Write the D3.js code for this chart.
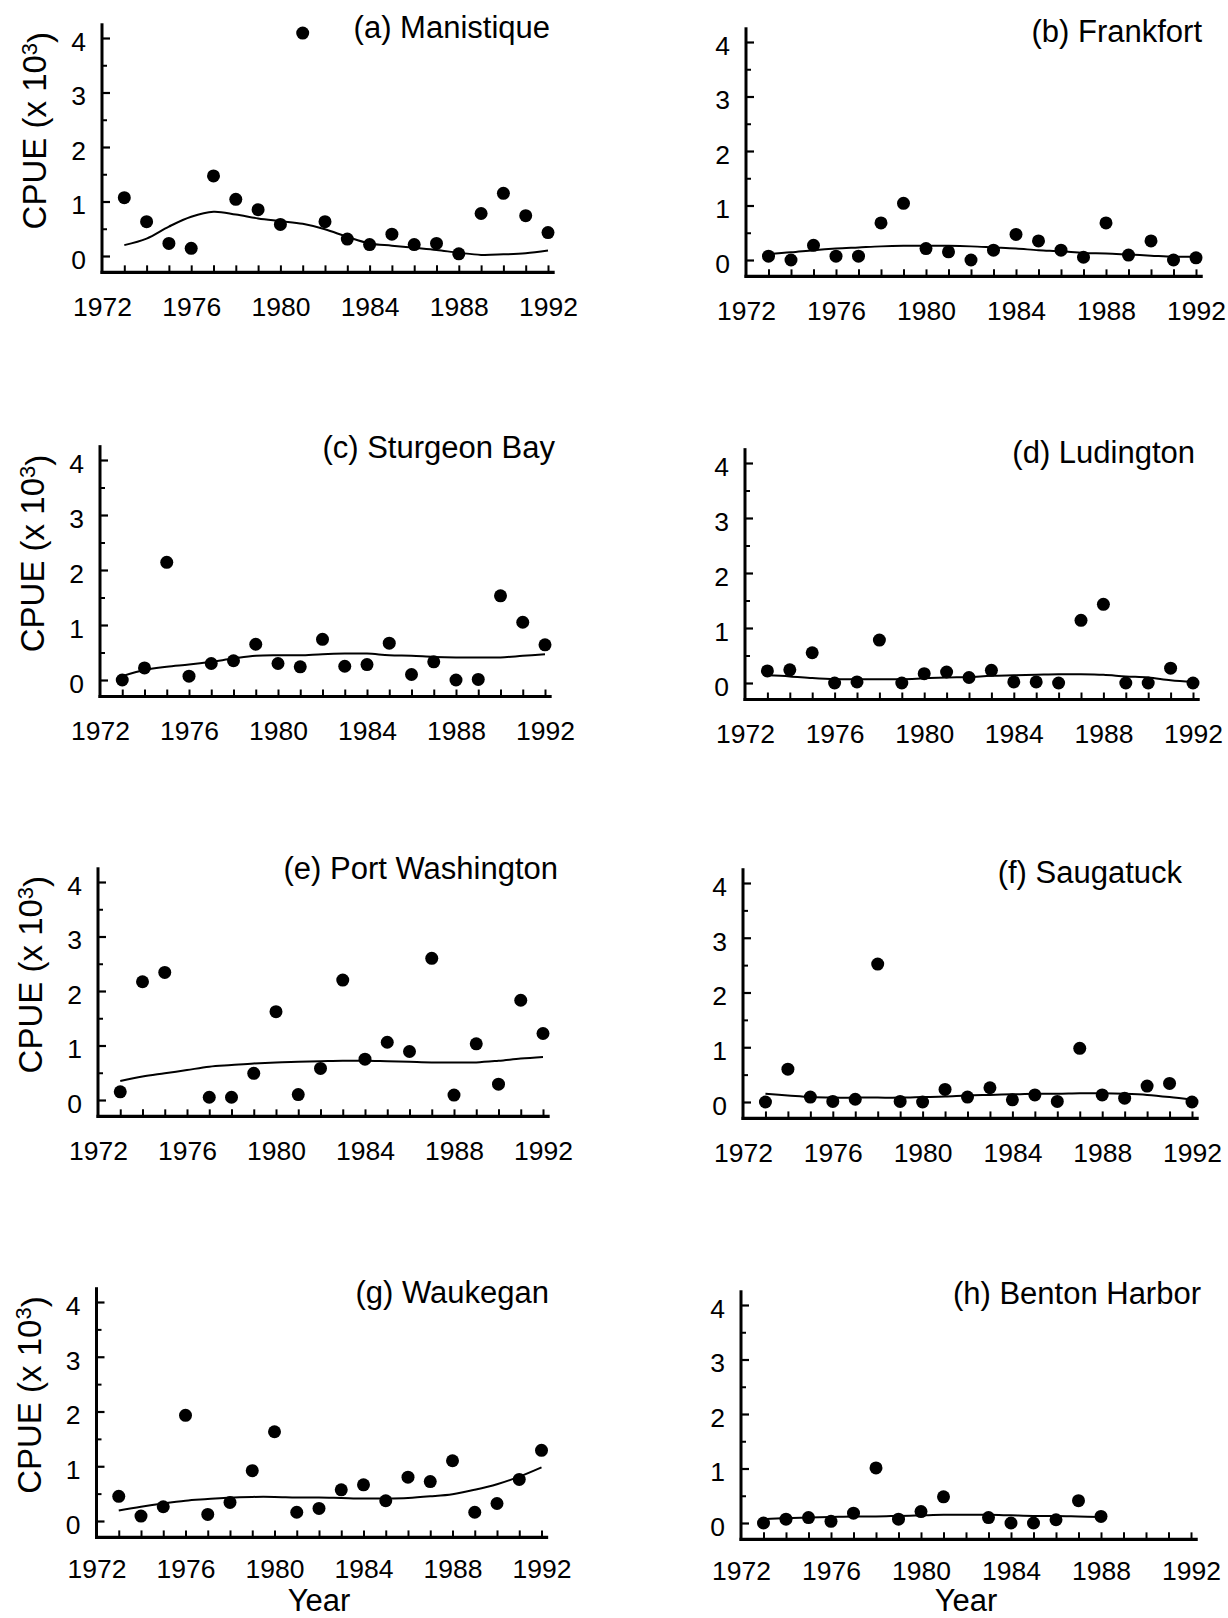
<!DOCTYPE html>
<html>
<head>
<meta charset="utf-8">
<script src="https://cdn.jsdelivr.net/npm/d3@7"></script>
<style>
    html, body { margin: 0; padding: 0; background: #fff; }
    svg { display: block; font-family: "Liberation Sans", Arial, sans-serif; }
</style>
</head>
<body>
<div id="chart"></div>
<script>
// ---- data (CPUE x 10^3) ----
const years = [1973, 1974, 1975, 1976, 1977, 1978, 1979, 1980, 1981, 1982,
               1983, 1984, 1985, 1986, 1987, 1988, 1989, 1990, 1991, 1992];
const yearTicks = [1972, 1976, 1980, 1984, 1988, 1992];
const cpueTicks = [0, 1, 2, 3, 4];
const cpueMinorTicks = [0.5, 1.5, 2.5, 3.5];

const siteNames = ['(a) Manistique', '(b) Frankfort', '(c) Sturgeon Bay', '(d) Ludington',
                   '(e) Port Washington', '(f) Saugatuck', '(g) Waukegan', '(h) Benton Harbor'];

const manistique    = [1.07, 0.63, 0.23, 0.14, 1.47, 1.04, 0.85, 0.58, 4.09, 0.63, 0.31, 0.21, 0.40, 0.21, 0.23, 0.04, 0.78, 1.15, 0.74, 0.43];
const manistiqueFit = [0.20, 0.32, 0.54, 0.72, 0.81, 0.76, 0.69, 0.64, 0.59, 0.49, 0.35, 0.23, 0.19, 0.15, 0.11, 0.06, 0.02, 0.03, 0.05, 0.10];

const frankfort     = [0.07, 0.00, 0.27, 0.07, 0.07, 0.68, 1.04, 0.21, 0.15, 0.00, 0.18, 0.47, 0.35, 0.18, 0.05, 0.68, 0.09, 0.35, 0.00, 0.04];
const frankfortFit  = [0.11, 0.14, 0.18, 0.21, 0.23, 0.25, 0.26, 0.26, 0.26, 0.25, 0.23, 0.21, 0.18, 0.16, 0.13, 0.12, 0.10, 0.08, 0.06, 0.06];

const sturgeonBay    = [0.00, 0.22, 2.14, 0.07, 0.30, 0.35, 0.65, 0.30, 0.24, 0.74, 0.25, 0.28, 0.67, 0.10, 0.33, 0.00, 0.01, 1.53, 1.05, 0.64];
const sturgeonBayFit = [0.07, 0.18, 0.24, 0.28, 0.33, 0.39, 0.44, 0.45, 0.45, 0.47, 0.48, 0.48, 0.45, 0.44, 0.42, 0.41, 0.41, 0.41, 0.44, 0.47];

const ludington     = [0.22, 0.24, 0.55, 0.00, 0.02, 0.78, 0.00, 0.17, 0.20, 0.10, 0.23, 0.02, 0.02, 0.00, 1.14, 1.43, 0.00, 0.00, 0.27, 0.00];
const ludingtonFit  = [0.14, 0.12, 0.09, 0.07, 0.07, 0.07, 0.07, 0.085, 0.10, 0.11, 0.13, 0.14, 0.15, 0.16, 0.16, 0.15, 0.12, 0.10, 0.05, 0.02];

const portWashington    = [0.15, 2.17, 2.34, null, 0.05, 0.05, 0.49, 1.62, 0.10, 0.58, 2.20, 0.75, 1.06, 0.89, 2.60, 0.09, 1.03, 0.29, 1.83, 1.22];
const portWashingtonFit = [0.35, 0.43, 0.49, 0.55, 0.61, 0.64, 0.67, 0.69, 0.70, 0.71, 0.72, 0.72, 0.71, 0.70, 0.69, 0.69, 0.69, 0.72, 0.76, 0.79];

const saugatuck     = [0.00, 0.60, 0.09, 0.01, 0.05, 2.52, 0.01, 0.00, 0.23, 0.09, 0.26, 0.04, 0.13, 0.01, 0.98, 0.13, 0.07, 0.29, 0.34, 0.00];
const saugatuckFit  = [0.15, 0.12, 0.09, 0.08, 0.08, 0.08, 0.08, 0.09, 0.10, 0.12, 0.13, 0.14, 0.15, 0.15, 0.16, 0.16, 0.15, 0.13, 0.09, 0.04];

const waukegan      = [0.45, 0.09, 0.26, 1.93, 0.12, 0.34, 0.92, 1.63, 0.16, 0.23, 0.57, 0.66, 0.37, 0.80, 0.72, 1.10, 0.16, 0.32, 0.76, 1.29];
const waukeganFit   = [0.19, 0.26, 0.32, 0.37, 0.40, 0.43, 0.44, 0.44, 0.43, 0.43, 0.42, 0.41, 0.41, 0.42, 0.45, 0.49, 0.57, 0.67, 0.81, 0.98];

const bentonHarbor    = [0.00, 0.07, 0.10, 0.03, 0.18, 1.01, 0.07, 0.21, 0.48, null, 0.10, 0.00, 0.00, 0.06, 0.41, 0.12, null, null, null, null];
const bentonHarborFit = [0.07, 0.09, 0.10, 0.11, 0.12, 0.12, 0.13, 0.14, 0.15, 0.15, 0.15, 0.14, 0.13, 0.13, 0.12, 0.11, null, null, null, null];

const sites = [
    { name: siteNames[0], cpue: manistique,     fit: manistiqueFit },
    { name: siteNames[1], cpue: frankfort,      fit: frankfortFit },
    { name: siteNames[2], cpue: sturgeonBay,    fit: sturgeonBayFit },
    { name: siteNames[3], cpue: ludington,      fit: ludingtonFit },
    { name: siteNames[4], cpue: portWashington, fit: portWashingtonFit },
    { name: siteNames[5], cpue: saugatuck,      fit: saugatuckFit },
    { name: siteNames[6], cpue: waukegan,       fit: waukeganFit },
    { name: siteNames[7], cpue: bentonHarbor,   fit: bentonHarborFit }
];

// ---- layout: pixel frame of each panel (x of 1972 / 1992, y of 0 / 4), title anchor ----
const layout = [
    { x0: 102,   x1: 548,    y0: 256,  y4: 38,   titleX: 550,  titleDy: 0 },
    { x0: 746,   x1: 1196,   y0: 260,  y4: 42,   titleX: 1202, titleDy: 0 },
    { x0: 100,   x1: 545,    y0: 680,  y4: 460,  titleX: 555,  titleDy: -2 },
    { x0: 745,   x1: 1193,   y0: 683,  y4: 463,  titleX: 1195, titleDy: 0 },
    { x0: 98,    x1: 543,    y0: 1100, y4: 882,  titleX: 558,  titleDy: -3 },
    { x0: 743,   x1: 1192,   y0: 1102, y4: 883,  titleX: 1182, titleDy: 0 },
    { x0: 96.5,  x1: 541.5,  y0: 1521, y4: 1302, titleX: 549,  titleDy: 1 },
    { x0: 741,   x1: 1191,   y0: 1523, y4: 1305, titleX: 1201, titleDy: -1 }
];

const WIDTH = 1228, HEIGHT = 1618;
const TICK_FONT = 26.5;
const FONT = '"Liberation Sans", Arial, sans-serif';

const svg = d3.select('#chart').append('svg')
    .attr('width', WIDTH)
    .attr('height', HEIGHT);

function drawPanel(site, box, index) {
    const isLeft = index % 2 === 0;
    const isBottom = index >= 6;

    const x = d3.scaleLinear().domain([1972, 1992]).range([box.x0, box.x1]);
    const y = d3.scaleLinear().domain([0, 4]).range([box.y0, box.y4]);
    const baseY = y(-0.3);

    const g = svg.append('g').attr('class', 'panel');

    // axis lines (heavy)
    g.append('line')
        .attr('x1', x(1972)).attr('x2', x(1972))
        .attr('y1', y(4.27)).attr('y2', baseY + 1.5)
        .attr('stroke', '#000').attr('stroke-width', 3);
    g.append('line')
        .attr('x1', x(1972) - 1.5).attr('x2', x(1992.3))
        .attr('y1', baseY).attr('y2', baseY)
        .attr('stroke', '#000').attr('stroke-width', 3.2);

    // yearly ticks pointing up
    const xTicks = g.append('g')
        .attr('transform', `translate(0,${baseY})`)
        .call(d3.axisTop(x).tickValues(years).tickSize(7).tickFormat(''));
    xTicks.select('.domain').remove();
    xTicks.selectAll('line').attr('stroke-width', 2);

    // year labels (bottom row sits a touch higher to leave room for "Year")
    const xLabels = g.append('g')
        .attr('transform', `translate(0,${baseY})`)
        .call(d3.axisBottom(x).tickValues(yearTicks).tickSize(0)
            .tickPadding(isBottom ? 22 : 25).tickFormat(d3.format('d')));
    xLabels.select('.domain').remove();
    xLabels.selectAll('text')
        .attr('font-size', TICK_FONT)
        .attr('font-family', FONT)
        .attr('fill', '#000')
        .each(function(d) {
            // keep the last label inside the page edge
            const half = this.getComputedTextLength() / 2;
            const over = x(d) + half - (WIDTH - 2);
            if (over > 0) d3.select(this).attr('x', -over);
        });

    // y ticks, major and minor, pointing right
    const yMajor = g.append('g')
        .attr('transform', `translate(${x(1972)},0)`)
        .call(d3.axisRight(y).tickValues(cpueTicks).tickSize(8).tickFormat(''));
    yMajor.select('.domain').remove();
    yMajor.selectAll('line').attr('stroke-width', 2.2);

    const yMinor = g.append('g')
        .attr('transform', `translate(${x(1972)},0)`)
        .call(d3.axisRight(y).tickValues(cpueMinorTicks).tickSize(5).tickFormat(''));
    yMinor.select('.domain').remove();
    yMinor.selectAll('line').attr('stroke-width', 2);

    // y labels
    const yLabels = g.append('g')
        .attr('transform', `translate(${x(1972) - 1},4)`)
        .call(d3.axisLeft(y).tickValues(cpueTicks).tickSize(0).tickPadding(15).tickFormat(d3.format('d')));
    yLabels.select('.domain').remove();
    yLabels.selectAll('text')
        .attr('font-size', TICK_FONT)
        .attr('font-family', FONT)
        .attr('fill', '#000');

    // smoothed trend
    const fitLine = d3.line()
        .defined(d => d.v !== null)
        .x(d => x(d.year))
        .y(d => y(d.v))
        .curve(d3.curveCatmullRom.alpha(0.5));

    g.append('path')
        .datum(years.map((yr, i) => ({ year: yr, v: site.fit[i] })))
        .attr('d', fitLine)
        .attr('fill', 'none')
        .attr('stroke', '#000')
        .attr('stroke-width', 2);

    // observed CPUE
    g.selectAll('circle.obs')
        .data(years.map((yr, i) => ({ year: yr, v: site.cpue[i] })).filter(d => d.v !== null))
        .join('circle')
        .attr('class', 'obs')
        .attr('cx', d => x(d.year))
        .attr('cy', d => y(d.v))
        .attr('r', 6.5)
        .attr('fill', '#000');

    // panel title
    g.append('text')
        .attr('x', box.titleX)
        .attr('y', y(4) + box.titleDy)
        .attr('text-anchor', 'end')
        .attr('font-size', 31)
        .attr('fill', '#000')
        .text(site.name);

    // y axis title on the left column
    if (isLeft) {
        const t = g.append('text')
            .attr('transform', `translate(${x(1972) - 56},${y(2.3)}) rotate(-90)`)
            .attr('text-anchor', 'middle')
            .attr('font-size', 33)
            .attr('fill', '#000');
        t.append('tspan').text('CPUE (x 10');
        t.append('tspan').attr('dy', '-0.42em').attr('font-size', 22).text('3');
        t.append('tspan').attr('dy', '0.42em').text(')');
    }

    // x axis title on the bottom row
    if (isBottom) {
        g.append('text')
            .attr('x', (x(1972) + x(1992)) / 2)
            .attr('y', 1611)
            .attr('text-anchor', 'middle')
            .attr('font-size', 31)
            .attr('fill', '#000')
            .text('Year');
    }
}

sites.forEach((site, i) => drawPanel(site, layout[i], i));
</script>
</body>
</html>
